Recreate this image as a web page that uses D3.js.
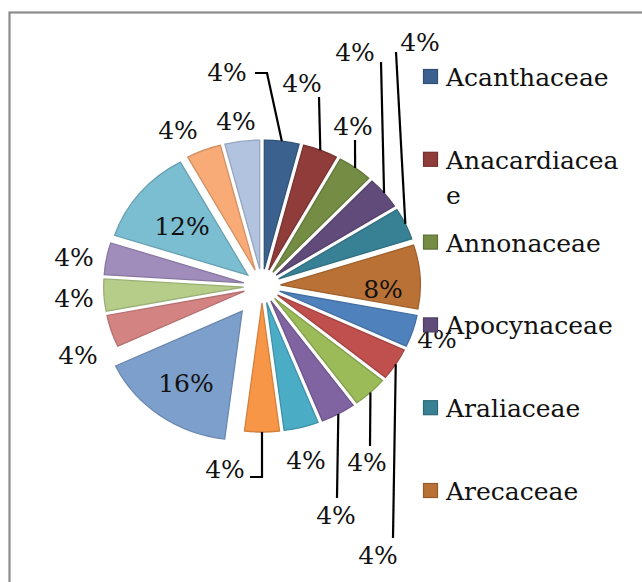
<!DOCTYPE html>
<html>
<head>
<meta charset="utf-8">
<script src="https://cdn.jsdelivr.net/npm/d3@7"></script>
<style>
  html, body { margin: 0; padding: 0; background: #fff; }
  svg { display: block; }
  text { font-family: "DejaVu Serif", "Liberation Serif", serif; fill: #111; }
</style>
</head>
<body>
<svg id="chart" width="642" height="582"></svg>
<script>
// ---- data ----
const categories = [
  "Acanthaceae", "Anacardiaceae", "Annonaceae", "Apocynaceae", "Araliaceae", "Arecaceae",
  "Asteraceae", "Bignoniaceae", "Burseraceae", "Clusiaceae", "Combretaceae", "Euphorbiaceae",
  "Fabaceae", "Lauraceae", "Malvaceae", "Meliaceae", "Moraceae", "Myrtaceae", "Rubiaceae"
];
const counts = [1, 1, 1, 1, 1, 2, 1, 1, 1, 1, 1, 1, 4, 1, 1, 1, 3, 1, 1];
const legendShown = categories.slice(0, 6);   // the legend is cut off after six entries

// ---- style ----
const colors = [
  "#3B618E", "#903C3A", "#748C43", "#604B7A", "#388195", "#B97135",
  "#4F81BD", "#C0504D", "#9BBB59", "#8064A2", "#4BACC6", "#F79646",
  "#7C9FCC", "#D38482", "#B5CD89", "#A08DBC", "#7BBDD1", "#F8AB76",
  "#B1C3DF"
];
const explodeDefault = 17;
const explodeSpecial = { "Fabaceae": 31 };

// ---- layout ----
const W = 642, H = 582;
const cx = 262, cy = 286, R = 129, xStretch = 1.085;
const fontSize = 25;
const labelLayout = [
  { x: 227, y: 72,  leader: [[267, 73], [255, 73]] },
  { x: 302, y: 83,  leader: [[319, 97]] },
  { x: 353, y: 126, leader: [[355, 140]] },
  { x: 355, y: 52,  leader: [[381, 62]] },
  { x: 420, y: 42,  leader: [[396, 52]] },
  { x: 383, y: 289 },
  { x: 437, y: 339 },
  { x: 378, y: 555, leader: [[393, 538]] },
  { x: 367, y: 462, leader: [[370, 446]] },
  { x: 336, y: 515, leader: [[337, 498]] },
  { x: 306, y: 460 },
  { x: 225, y: 469, leader: [[262, 477], [250, 477]] },
  { x: 186, y: 383 },
  { x: 78,  y: 355 },
  { x: 74,  y: 298 },
  { x: 74,  y: 257 },
  { x: 182, y: 226 },
  { x: 178, y: 130 },
  { x: 236, y: 121 }
];

const svg = d3.select("#chart");
svg.append("rect").attr("width", W).attr("height", H).attr("fill", "#fff");

// chart frame (cut off on the right and bottom)
svg.append("rect")
  .attr("x", 9.5).attr("y", 12.5).attr("width", 800).attr("height", 800)
  .attr("fill", "none").attr("stroke", "#8c8c8c").attr("stroke-width", 2.2);

const total = d3.sum(counts);
const pct = d3.format(".0%");
const pie = d3.pie().sort(null).value(d => d.v).startAngle(0).endAngle(2 * Math.PI);
const arcs = pie(categories.map((c, i) => ({ name: c, v: counts[i], i })));
const arc = d3.arc().innerRadius(0).outerRadius(R);

const offsetOf = d => explodeSpecial[d.data.name] !== undefined ? explodeSpecial[d.data.name] : explodeDefault;
const midOf = d => (d.startAngle + d.endAngle) / 2;

const gPie = svg.append("g").attr("transform", `translate(${cx},${cy}) scale(${xStretch},1)`);
gPie.selectAll("path.slice")
  .data(arcs)
  .join("path")
  .attr("class", "slice")
  .attr("d", arc)
  .attr("transform", d => {
    const m = midOf(d), o = offsetOf(d);
    return `translate(${Math.sin(m) * o},${-Math.cos(m) * o})`;
  })
  .attr("fill", d => colors[d.data.i])
  .attr("stroke", d => d3.color(colors[d.data.i]).darker(0.45))
  .attr("stroke-width", 1.3)
  .attr("vector-effect", "non-scaling-stroke");

// outer mid point of each slice in page coordinates
const outerPoint = d => {
  const m = midOf(d), r = offsetOf(d) + R;
  return [cx + xStretch * r * Math.sin(m), cy - r * Math.cos(m)];
};

// leader lines
const line = d3.line();
svg.append("g").selectAll("path")
  .data(arcs.filter(d => labelLayout[d.data.i].leader))
  .join("path")
  .attr("d", d => line([outerPoint(d), ...labelLayout[d.data.i].leader]))
  .attr("fill", "none")
  .attr("stroke", "#000")
  .attr("stroke-width", 2.2);

// data labels
svg.append("g").selectAll("text")
  .data(arcs)
  .join("text")
  .attr("x", d => labelLayout[d.data.i].x)
  .attr("y", d => labelLayout[d.data.i].y)
  .attr("dy", "0.36em")
  .attr("text-anchor", "middle")
  .attr("font-size", fontSize)
  .text(d => pct(d.data.v / total));

// legend
const legendY = d3.scaleLinear().domain([0, 5]).range([77, 491]);
const gLeg = svg.append("g");
const maxTextW = 182;
legendShown.forEach((name, i) => {
  const y = legendY(i);
  gLeg.append("rect")
    .attr("x", 423.5).attr("y", y - 7.5).attr("width", 14).attr("height", 14)
    .attr("fill", colors[i])
    .attr("stroke", d3.color(colors[i]).darker(0.6))
    .attr("stroke-width", 1.2);
  const t = gLeg.append("text")
    .attr("x", 446).attr("y", y)
    .attr("font-size", fontSize);
  // character wrap like the original legend
  let lines = [], cur = "";
  const probe = t.append("tspan");
  for (const ch of name) {
    probe.text(cur + ch);
    if (probe.node().getComputedTextLength() > maxTextW && cur.length) {
      lines.push(cur); cur = ch;
    } else cur += ch;
  }
  lines.push(cur);
  probe.remove();
  lines.forEach((ln, k) => {
    t.append("tspan").attr("x", 446).attr("dy", k === 0 ? "0.36em" : "1.4em").text(ln);
  });
});
</script>
</body>
</html>
